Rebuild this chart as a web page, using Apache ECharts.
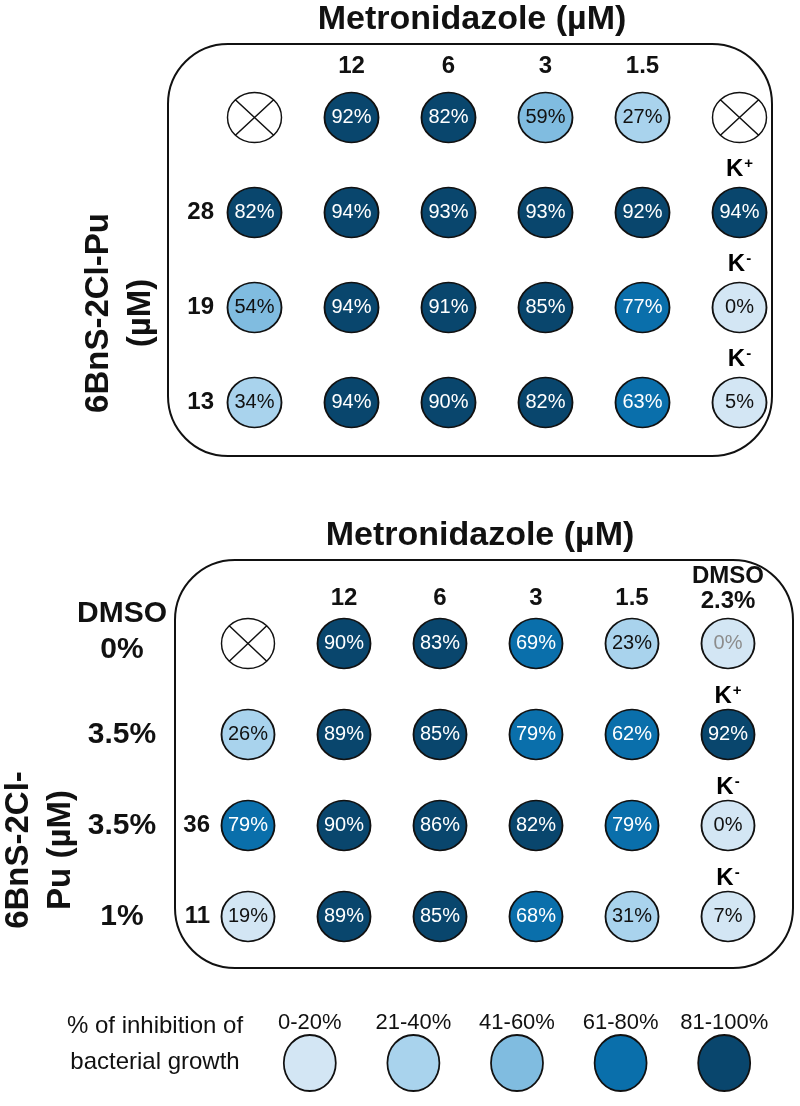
<!DOCTYPE html>
<html><head><meta charset="utf-8">
<script src="https://cdn.jsdelivr.net/npm/echarts@6/dist/echarts.min.js"></script>
<style>html,body{margin:0;padding:0;background:#fff}#c{width:800px;height:1106px}</style>
</head><body><div id="c"></div>
<script>
const FONT = "'Liberation Sans', Arial, Helvetica, sans-serif";

// ---- top panel ----
const topColumns = ['', '12', '6', '3', '1.5', ''];
const topRowLabels = ['', '28', '19', '13'];
const topRow1 = [null, 92, 82, 59, 27, null];
const topRow2 = [82, 94, 93, 93, 92, 94];
const topRow3 = [54, 94, 91, 85, 77, 0];
const topRow4 = [34, 94, 90, 82, 63, 5];
const topControls = ['', '+', '-', '-'];

// ---- bottom panel ----
const bottomColumns = ['', '12', '6', '3', '1.5', 'DMSO\n2.3%'];
const bottomRowLabels = ['', '', '36', '11'];
const bottomDmsoLabels = ['DMSO\n0%', '3.5%', '3.5%', '1%'];
const bottomRow1 = [null, 90, 83, 69, 23, 0];
const bottomRow2 = [26, 89, 85, 79, 62, 92];
const bottomRow3 = [79, 90, 86, 82, 79, 0];
const bottomRow4 = [19, 89, 85, 68, 31, 7];
const bottomControls = ['', '+', '-', '-'];
const bottomGreyCells = [[5, 0]];

// ---- legend ----
const legendLabels = ['0-20%', '21-40%', '41-60%', '61-80%', '81-100%'];
const binUpper = [20, 40, 60, 80, 100];
const binColors = ['#d3e6f4', '#a9d3ed', '#80bce0', '#0a6fab', '#09466d'];

function binIndex(v) { for (let i = 0; i < binUpper.length; i++) if (v <= binUpper[i]) return i; return binUpper.length - 1; }

function buildCells(rows, greyCells) {
  const filled = [], empty = [];
  rows.forEach((row, r) => row.forEach((v, c) => {
    if (v === null) { empty.push([c, r]); return; }
    const b = binIndex(v);
    const grey = (greyCells || []).some(g => g[0] === c && g[1] === r);
    filled.push({
      value: [c, r, v],
      itemStyle: { color: binColors[b] },
      label: { color: grey ? '#8c8c8c' : (b >= 3 ? '#ffffff' : '#111111') }
    });
  }));
  return { filled, empty };
}
function buildControls(ctrl, col) {
  return ctrl.map((s, r) => s ? { value: [col, r], sign: s } : null).filter(Boolean);
}

const topCells = buildCells([topRow1, topRow2, topRow3, topRow4]);
const bottomCells = buildCells([bottomRow1, bottomRow2, bottomRow3, bottomRow4], bottomGreyCells);

const CROSS = 'path://M0,50A50,50,0,1,1,100,50A50,50,0,1,1,0,50ZM14.6,14.6L85.4,85.4M85.4,14.6L14.6,85.4';

function valueSeries(xi, yi, data, size) {
  return {
    type: 'scatter', xAxisIndex: xi, yAxisIndex: yi, data: data,
    symbol: 'circle', symbolSize: size, silent: true,
    itemStyle: { borderColor: '#111', borderWidth: 1.8, opacity: 1 },
    label: { show: true, position: 'inside', fontFamily: FONT, fontSize: 20,
      formatter: p => p.value[2] + '%' }
  };
}
function emptySeries(xi, yi, data, size) {
  return {
    type: 'scatter', xAxisIndex: xi, yAxisIndex: yi, data: data,
    symbol: CROSS, symbolSize: size, silent: true,
    itemStyle: { color: '#fff', borderColor: '#111', borderWidth: 1.4, opacity: 1 }
  };
}
function controlSeries(xi, yi, data, dy) {
  return {
    type: 'scatter', xAxisIndex: xi, yAxisIndex: yi, data: data,
    symbol: 'circle', symbolSize: 1, silent: true, z: 5,
    itemStyle: { color: '#ffffff', borderWidth: 0, opacity: 1 },
    label: { show: true, position: 'inside', offset: [0, dy], opacity: 1, color: '#000',
      formatter: p => '{k|K}{s|' + p.data.sign + '}',
      rich: {
        k: { fontFamily: FONT, fontSize: 24, fontWeight: 'bold', color: '#000', opacity: 1, lineHeight: 26 },
        s: { fontFamily: FONT, fontSize: 15, fontWeight: 'bold', color: '#000', opacity: 1, verticalAlign: 'top', lineHeight: 26, padding: [0, 0, 12, 1] }
      } }
  };
}

const boldLabel = (size) => ({ fontFamily: FONT, fontSize: size, fontWeight: 'bold', color: '#111' });
const hidden = { axisLine: { show: false }, axisTick: { show: false }, splitLine: { show: false } };

const option = {
  backgroundColor: '#ffffff',
  animation: false,
  grid: [
    { left: 206, top: 70, width: 582, height: 380 },
    { left: 200, top: 598, width: 576, height: 364 },
    { left: 258, top: 1040, width: 518, height: 46 }
  ],
  xAxis: [
    Object.assign({ type: 'category', gridIndex: 0, position: 'top', data: topColumns,
      axisLabel: Object.assign(boldLabel(24), { margin: -8, lineHeight: 24, interval: 0 }) }, hidden),
    Object.assign({ type: 'category', gridIndex: 1, position: 'top', data: bottomColumns,
      axisLabel: { margin: -16, interval: 0,
        formatter: v => v.indexOf('\n') >= 0 ? v.split('\n').map(t => '{d|' + t + '}').join('\n') : '{n|' + v + '}',
        rich: {
          n: Object.assign(boldLabel(24), { lineHeight: 24, padding: [0, 0, 7, 0] }),
          d: Object.assign(boldLabel(24), { lineHeight: 25 })
        } } }, hidden),
    Object.assign({ type: 'category', gridIndex: 2, position: 'top', data: legendLabels,
      axisLabel: { fontFamily: FONT, fontSize: 22, color: '#111', margin: 6, interval: 0 } }, hidden)
  ],
  yAxis: [
    Object.assign({ type: 'category', gridIndex: 0, inverse: true, data: topRowLabels,
      axisLabel: Object.assign(boldLabel(24), { margin: -8, interval: 0 }) }, hidden),
    Object.assign({ type: 'category', gridIndex: 1, inverse: true, data: bottomRowLabels,
      axisLabel: Object.assign(boldLabel(24), { margin: -10, interval: 0 }) }, hidden),
    Object.assign({ type: 'category', gridIndex: 1, inverse: true, data: bottomDmsoLabels, position: 'left',
      axisLabel: { margin: 78, align: 'center', interval: 0,
        formatter: v => v.indexOf('\n') >= 0 ? v.split('\n').map(t => '{a|' + t + '}').join('\n') + '\n{e| }' : '{a|' + v + '}',
        rich: {
          a: Object.assign(boldLabel(30), { lineHeight: 36 }),
          e: Object.assign(boldLabel(10), { lineHeight: 24 })
        } } }, hidden),
    Object.assign({ type: 'category', gridIndex: 2, data: ['legend'], axisLabel: { show: false } }, hidden)
  ],
  graphic: [
    { type: 'rect', shape: { x: 168, y: 44, width: 604, height: 412, r: 60 }, style: { fill: 'none', stroke: '#111', lineWidth: 2 }, z: -1 },
    { type: 'rect', shape: { x: 175, y: 560, width: 618, height: 408, r: 60 }, style: { fill: 'none', stroke: '#111', lineWidth: 2 }, z: -1 },
    { type: 'text', x: 472, y: 20, style: { text: 'Metronidazole (µM)', font: 'bold 34px ' + FONT, fill: '#111', textAlign: 'center', textVerticalAlign: 'middle' } },
    { type: 'text', x: 480, y: 536, style: { text: 'Metronidazole (µM)', font: 'bold 34px ' + FONT, fill: '#111', textAlign: 'center', textVerticalAlign: 'middle' } },
    { type: 'text', x: 120, y: 313, rotation: Math.PI / 2, style: { text: '6BnS-2Cl-Pu\n(µM)', font: 'bold 33px ' + FONT, lineHeight: 42, fill: '#111', textAlign: 'center', textVerticalAlign: 'middle' } },
    { type: 'text', x: 40, y: 850, rotation: Math.PI / 2, style: { text: '6BnS-2Cl-\nPu (µM)', font: 'bold 33px ' + FONT, lineHeight: 42, fill: '#111', textAlign: 'center', textVerticalAlign: 'middle' } },
    { type: 'text', x: 155, y: 1044, style: { text: '% of inhibition of\nbacterial growth', font: '24px ' + FONT, lineHeight: 36, fill: '#111', textAlign: 'center', textVerticalAlign: 'middle' } }
  ],
  series: [
    valueSeries(0, 0, topCells.filled, [54, 50]),
    emptySeries(0, 0, topCells.empty, [54, 50]),
    controlSeries(0, 0, buildControls(topControls, 5), -43),
    valueSeries(1, 1, bottomCells.filled, [53, 50]),
    emptySeries(1, 1, bottomCells.empty, [53, 50]),
    controlSeries(1, 1, buildControls(bottomControls, 5), -38),
    {
      type: 'scatter', xAxisIndex: 2, yAxisIndex: 3, silent: true,
      data: legendLabels.map((l, i) => ({ value: [i, 0], itemStyle: { color: binColors[i] } })),
      symbol: 'circle', symbolSize: [52, 56],
      itemStyle: { borderColor: '#111', borderWidth: 1.8, opacity: 1 }
    }
  ]
};
const chart = echarts.init(document.getElementById('c'), null, { renderer: 'canvas' });
chart.setOption(option);
</script></body></html>
